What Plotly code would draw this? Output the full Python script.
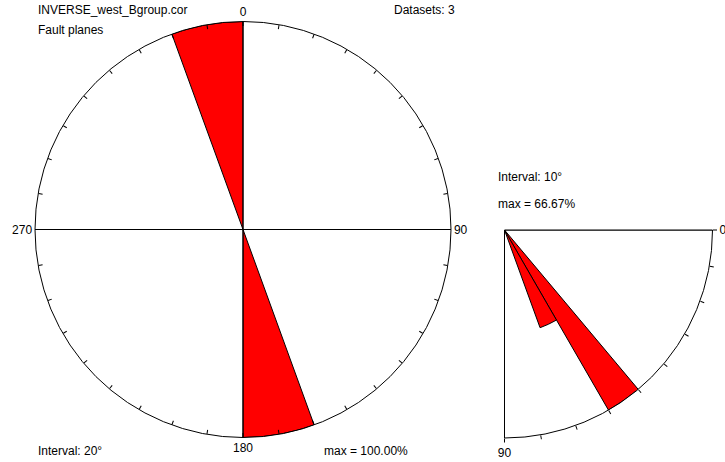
import plotly.graph_objects as go

# Strike rose (bidirectional, 20° bins) – percentage of planes per bin
strike_bins = [170, 350]          # bin centres
strike_pct = [100.0, 100.0]
strike_width = 20

# Dip rose (10° bins, 0 = horizontal, 90 = vertical)
dip_bins = [55, 65]
dip_pct = [66.67, 33.33]
dip_width = 10

title_file = "INVERSE_west_Bgroup.cor"
title_kind = "Fault planes"
n_datasets = 3

W, H = 725, 462
FONT = dict(family="Liberation Sans, Arial, Helvetica, sans-serif", size=12, color="black")

def px_x(x):
    return x / W

def px_y(y):
    return 1 - y / H

# dip quadrant: dip d is drawn at polar angle 360 - d (counterclockwise from east),
# so 0° lies on the east edge and 90° on the south edge
def dip_theta(d):
    return 360 - d

fig = go.Figure()

# ---- main strike rose ----
fig.add_trace(go.Barpolar(
    r=strike_pct, theta=strike_bins, width=[strike_width] * len(strike_bins),
    marker=dict(color="#ff0000", line=dict(color="black", width=1)),
    subplot="polar", showlegend=False, hoverinfo="skip",
))
# N–S and E–W cross lines
for a, b in [(0, 180), (90, 270)]:
    fig.add_trace(go.Scatterpolar(
        r=[100, 0, 100], theta=[a, a, b], mode="lines",
        line=dict(color="black", width=1), subplot="polar",
        showlegend=False, hoverinfo="skip",
    ))

# ---- dip quadrant ----
fig.add_trace(go.Barpolar(
    r=dip_pct, theta=[dip_theta(d) for d in dip_bins], width=[dip_width] * len(dip_bins),
    marker=dict(color="#ff0000", line=dict(color="black", width=1)),
    subplot="polar2", showlegend=False, hoverinfo="skip",
))
dmax = max(dip_pct)
fig.add_trace(go.Scatterpolar(
    r=[dmax, 0, dmax], theta=[dip_theta(0), 0, dip_theta(90)], mode="lines",
    line=dict(color="black", width=1), subplot="polar2",
    showlegend=False, hoverinfo="skip",
))

main_ticks = list(range(0, 360, 10))
main_text = [str(t) if t % 90 == 0 else "" for t in main_ticks]
dip_ticks = list(range(0, 91, 10))
dip_text = [str(t) if t in (0, 90) else "" for t in dip_ticks]

fig.update_layout(
    width=W, height=H,
    margin=dict(l=0, r=0, t=0, b=0),
    paper_bgcolor="white", plot_bgcolor="white",
    font=FONT,
    polar=dict(
        domain=dict(x=[px_x(35), px_x(451)], y=[px_y(437.5), px_y(21.5)]),
        bgcolor="white",
        radialaxis=dict(range=[0, max(strike_pct)], visible=False),
        angularaxis=dict(
            direction="clockwise", rotation=90,
            tickmode="array", tickvals=main_ticks, ticktext=main_text,
            ticks="inside", ticklen=4, tickcolor="black", tickwidth=1,
            showgrid=False, showline=True, linecolor="black", linewidth=1,
            tickfont=FONT,
        ),
    ),
    polar2=dict(
        domain=dict(x=[px_x(504.5), px_x(712.5)], y=[px_y(438), px_y(230)]),
        sector=[270, 360],
        bgcolor="white",
        radialaxis=dict(range=[0, dmax], visible=False),
        angularaxis=dict(
            direction="counterclockwise", rotation=0,
            tickmode="array", tickvals=[dip_theta(d) for d in dip_ticks], ticktext=dip_text,
            ticks="outside", ticklen=4, tickcolor="black", tickwidth=1,
            showgrid=False, showline=True, linecolor="black", linewidth=1,
            tickfont=FONT,
        ),
    ),
)

def note(text, x, y, anchor="left"):
    fig.add_annotation(text=text, x=px_x(x), y=px_y(y), xref="paper", yref="paper",
                       xanchor=anchor, yanchor="middle", showarrow=False, font=FONT)

note(title_file, 36, 10)
note(title_kind, 36, 30)
note(f"Datasets: {n_datasets}", 392, 10)
note(f"Interval: {strike_width}\u00b0", 36, 451)
note(f"max = {max(strike_pct):.2f}%", 322, 451)
note(f"Interval: {dip_width}\u00b0", 496, 177)
note(f"max = {dmax:.2f}%", 496, 204)

fig.write_html("out.html")
